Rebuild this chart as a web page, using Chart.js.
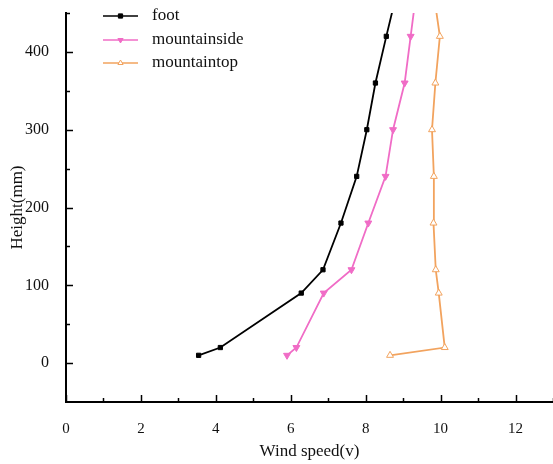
<!DOCTYPE html>
<html>
<head>
<meta charset="utf-8">
<script src="https://cdn.jsdelivr.net/npm/chart.js@4"></script>
<style>
  html, body { margin: 0; padding: 0; background: #fff; overflow: hidden; }
  canvas { display: block; }
</style>
</head>
<body>
<canvas id="windChart" width="553" height="464"></canvas>
<script>
const heights = [10, 20, 90, 120, 180, 240, 300, 360, 420, 480];
const footSpeed = [3.54, 4.12, 6.28, 6.86, 7.34, 7.76, 8.03, 8.26, 8.55, 8.85];
const sideSpeed = [5.9, 6.15, 6.88, 7.62, 8.07, 8.53, 8.73, 9.04, 9.2, 9.36];
const topSpeed = [8.65, 10.11, 9.95, 9.87, 9.81, 9.82, 9.77, 9.86, 9.98, 9.8];
const xTicks = [0, 2, 4, 6, 8, 10, 12];
const yTicks = [0, 100, 200, 300, 400];

const serif = '"Liberation Serif", "DejaVu Serif", serif';

function toPoints(speeds) {
    return speeds.map((v, i) => ({ x: v, y: heights[i] }));
}

// ticks pointing into the plot, major + minor
const innerTicks = {
    id: 'innerTicks',
    afterDraw(chart) {
        const ctx = chart.ctx;
        const xs = chart.scales.x, ys = chart.scales.y;
        ctx.save();
        ctx.strokeStyle = '#000';
        ctx.lineWidth = 1.5;
        for (let v = 0; v <= 13; v++) {
            const px = Math.round(xs.getPixelForValue(v)) + 0.5;
            const len = v % 2 === 0 ? 7 : 4;
            ctx.beginPath();
            ctx.moveTo(px, xs.top);
            ctx.lineTo(px, xs.top - len);
            ctx.stroke();
        }
        for (let v = 0; v <= 450; v += 50) {
            const py = Math.round(ys.getPixelForValue(v)) + 0.5;
            const len = v % 100 === 0 ? 7 : 4;
            ctx.beginPath();
            ctx.moveTo(ys.right, py);
            ctx.lineTo(ys.right + len, py);
            ctx.stroke();
        }
        ctx.restore();
    }
};

// legend drawn as line + marker, like the original
const lineLegend = {
    id: 'lineLegend',
    afterDraw(chart) {
        const ctx = chart.ctx;
        const x0 = 103, x1 = 138, rows = [16, 40, 63];
        ctx.save();
        chart.data.datasets.forEach((ds, i) => {
            const y = rows[i];
            ctx.strokeStyle = ds.borderColor;
            ctx.lineWidth = 1.5;
            ctx.beginPath();
            ctx.moveTo(x0, y);
            ctx.lineTo(x1, y);
            ctx.stroke();
            ctx.fillStyle = ds.backgroundColor;
            ctx.lineWidth = 1;
            Chart.helpers.drawPoint(ctx, {
                pointStyle: ds.pointStyle,
                rotation: ds.pointRotation || 0,
                radius: ds.pointStyle === 'rect' ? ds.pointRadius : ds.pointRadius - 1,
                borderWidth: 1
            }, (x0 + x1) / 2, y);
            ctx.fillStyle = '#111';
            ctx.font = '17px ' + serif;
            ctx.textBaseline = 'middle';
            ctx.fillText(ds.label, 152, y);
        });
        ctx.restore();
    }
};

const ctxWind = document.getElementById('windChart').getContext('2d');
new Chart(ctxWind, {
    type: 'scatter',
    data: {
        datasets: [{
            label: 'foot',
            data: toPoints(footSpeed),
            showLine: true,
            borderColor: '#000000',
            backgroundColor: '#000000',
            borderWidth: 1.8,
            pointStyle: 'rect',
            pointRadius: 3,
            pointBorderWidth: 1
        }, {
            label: 'mountainside',
            data: toPoints(sideSpeed),
            showLine: true,
            borderColor: '#f06cc6',
            backgroundColor: '#f06cc6',
            borderWidth: 1.8,
            pointStyle: 'triangle',
            pointRotation: 180,
            pointRadius: 4,
            pointBorderWidth: 1
        }, {
            label: 'mountaintop',
            data: toPoints(topSpeed),
            showLine: true,
            borderColor: '#f2a35e',
            backgroundColor: '#ffffff',
            borderWidth: 1.8,
            pointStyle: 'triangle',
            pointRadius: 4,
            pointBorderWidth: 1
        }]
    },
    options: {
        responsive: false,
        animation: false,
        layout: { autoPadding: false, padding: { top: 13, right: 0, left: 0, bottom: 0 } },
        plugins: {
            legend: { display: false },
            tooltip: { enabled: false }
        },
        scales: {
            x: {
                type: 'linear',
                min: 0,
                max: 13,
                grid: { display: false },
                border: { display: true, color: '#000', width: 2 },
                afterBuildTicks: (s) => { s.ticks = xTicks.map(v => ({ value: v })); },
                afterFit: (s) => { s.height = 62; s.paddingLeft = 0; s.paddingRight = 0; },
                ticks: { color: '#111', font: { family: serif, size: 15 }, padding: 10 },
                title: {
                    display: true,
                    text: 'Wind speed(v)',
                    color: '#111',
                    font: { family: serif, size: 17 },
                    padding: { top: 0, bottom: 2 }
                }
            },
            y: {
                type: 'linear',
                min: -50,
                max: 450,
                grid: { display: false },
                border: { display: true, color: '#000', width: 2 },
                afterBuildTicks: (s) => { s.ticks = yTicks.map(v => ({ value: v })); },
                afterFit: (s) => { s.width = 66; s.paddingTop = 0; s.paddingBottom = 0; },
                ticks: { color: '#111', font: { family: serif, size: 16 }, padding: 9 },
                title: {
                    display: true,
                    text: 'Height(mm)',
                    color: '#111',
                    font: { family: serif, size: 17 },
                    padding: { top: 7, bottom: 0 }
                }
            }
        }
    },
    plugins: [innerTicks, lineLegend]
});
</script>
</body>
</html>
